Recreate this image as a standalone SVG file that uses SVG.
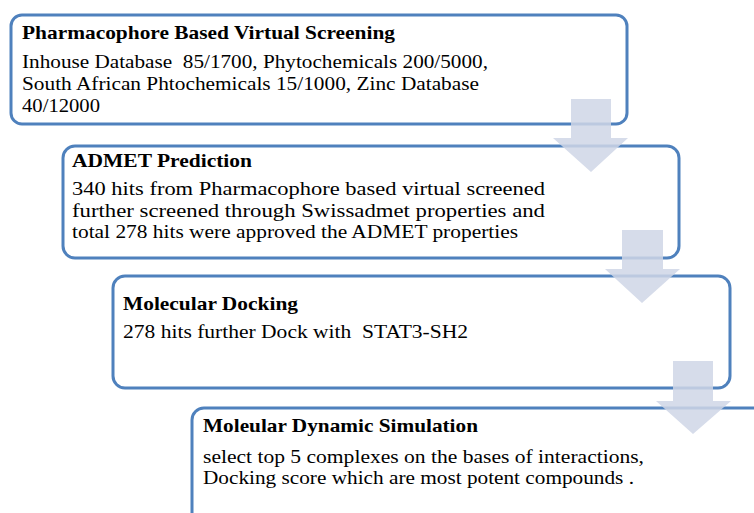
<svg xmlns="http://www.w3.org/2000/svg" width="754" height="513" viewBox="0 0 754 513">
<style>
.box{fill:#ffffff;stroke:#4f81bd;stroke-width:3}
.arrow{fill:#cfd6e6;fill-opacity:0.85}
.t{font-weight:bold}
text{font-family:'Liberation Serif','Times New Roman',serif;font-size:19.5px;fill:#000000}
</style>
<rect width="754" height="513" fill="#ffffff"/>
<g id="node1">
<rect class="box" x="11" y="15" width="616" height="109" rx="11"/>
<text class="t" x="22" y="39" textLength="373" lengthAdjust="spacingAndGlyphs">Pharmacophore Based Virtual Screening</text>
<text x="22" y="68" textLength="466" lengthAdjust="spacingAndGlyphs" xml:space="preserve">Inhouse Database  85/1700, Phytochemicals 200/5000,</text>
<text x="22" y="90" textLength="457" lengthAdjust="spacingAndGlyphs">South African Phtochemicals 15/1000, Zinc Database</text>
<text x="22" y="112" textLength="78" lengthAdjust="spacingAndGlyphs">40/12000</text>
</g>
<g id="node2">
<rect class="box" x="63" y="146" width="616" height="112" rx="12"/>
<text class="t" x="72" y="167" textLength="180" lengthAdjust="spacingAndGlyphs">ADMET Prediction</text>
<text x="72" y="195" textLength="473" lengthAdjust="spacingAndGlyphs">340 hits from Pharmacophore based virtual screened</text>
<text x="72" y="216.5" textLength="473" lengthAdjust="spacingAndGlyphs">further screened through Swissadmet properties and</text>
<text x="72" y="238" textLength="446" lengthAdjust="spacingAndGlyphs">total 278 hits were approved the ADMET properties</text>
</g>
<g id="node3">
<rect class="box" x="113" y="276" width="617" height="112" rx="12"/>
<text class="t" x="123" y="310" textLength="175" lengthAdjust="spacingAndGlyphs">Molecular Docking</text>
<text x="123" y="338" textLength="345" lengthAdjust="spacingAndGlyphs" xml:space="preserve">278 hits further Dock with  STAT3-SH2</text>
</g>
<g id="node4">
<rect class="box" x="192" y="408" width="700" height="200" rx="12"/>
<text class="t" x="203" y="432" textLength="275" lengthAdjust="spacingAndGlyphs">Moleular Dynamic Simulation</text>
<text x="203" y="463" textLength="441" lengthAdjust="spacingAndGlyphs">select top 5 complexes on the bases of interactions,</text>
<text x="203" y="484" textLength="431" lengthAdjust="spacingAndGlyphs">Docking score which are most potent compounds .</text>
</g>
<g id="connectors">
<path class="arrow" d="M571 99 H611 V138 H628 L591 172 L553 138 H571 Z"/>
<path class="arrow" d="M622 230 H663 V269 H680 L642 303 L605 269 H622 Z"/>
<path class="arrow" d="M673 361 H713 V401 H731 L693 434 L656 401 H673 Z"/>
</g>
</svg>
